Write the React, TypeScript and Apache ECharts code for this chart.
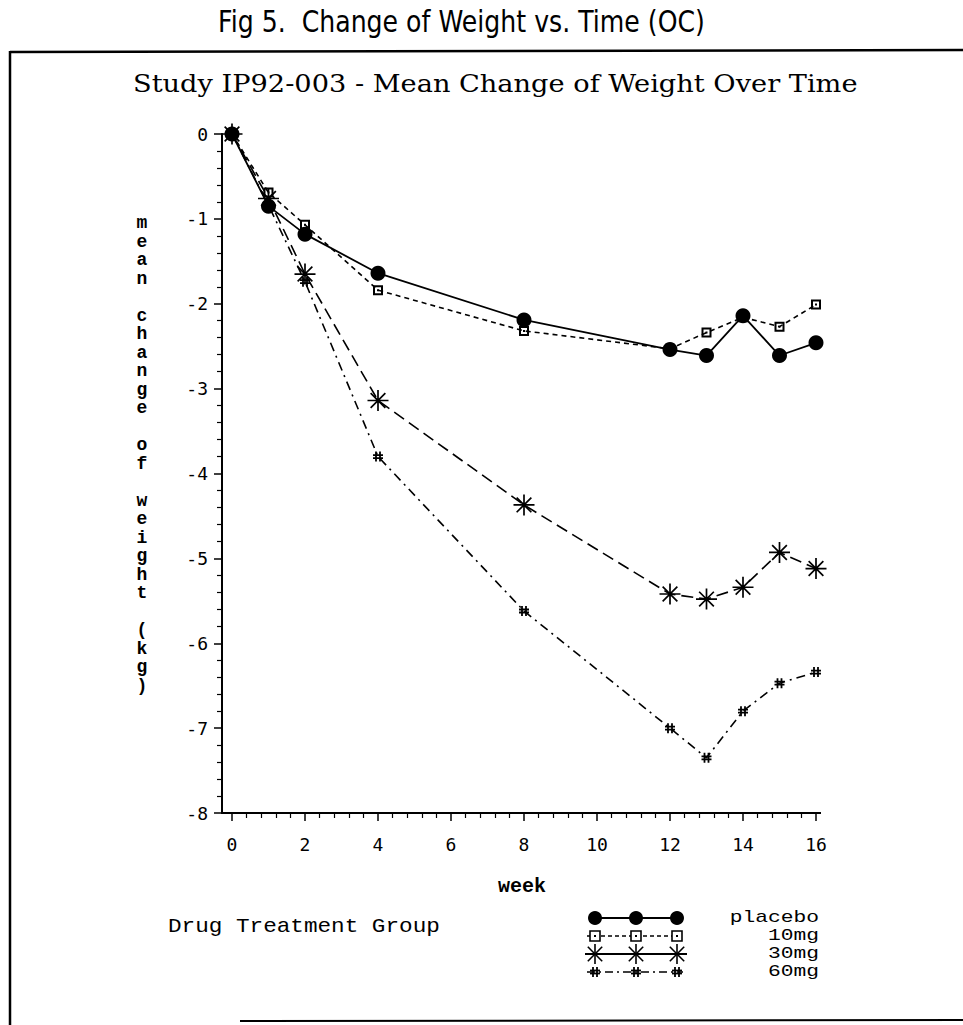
import React, { useEffect, useRef } from "react";
import * as echarts from "echarts";

// ---- data ----
const weeks = [0, 1, 2, 4, 8, 12, 13, 14, 15, 16];
const placebo = [0, -0.85, -1.18, -1.64, -2.19, -2.54, -2.61, -2.14, -2.61, -2.46];
const mg10 = [0, -0.69, -1.07, -1.84, -2.32, -2.53, -2.34, -2.16, -2.27, -2.01];
const mg30 = [0, -0.76, -1.65, -3.14, -4.37, -5.42, -5.48, -5.34, -4.93, -5.12];
const mg60 = [0, -0.84, -1.74, -3.8, -5.62, -7.0, -7.35, -6.8, -6.47, -6.34];
const groupNames = ["placebo", "10mg", "30mg", "60mg"];
const figTitle = "Fig 5.  Change of Weight vs. Time (OC)";
const plotTitle = "Study IP92-003 - Mean Change of Weight Over Time";
const yAxisName = "mean change of weight (kg)";
const xAxisName = "week";
const legendTitle = "Drug Treatment Group";

const SQUARE = "path://M0,0H10V10H0Z M2,2V8H8V2Z M4,4H6V6H4Z";
const STAR = "path://M10,0L10,20M0,10L20,10M3,3L17,17M17,3L3,17";
const HASH = "path://M3,0L3,10M7,0L7,10M0,3.5L10,3.5M0,6.5L10,6.5";

function measure(text: string, font: string): number {
  const c = document.createElement("canvas");
  const ctx = c.getContext("2d");
  if (!ctx) return text.length * 10;
  ctx.font = font;
  return ctx.measureText(text).width || text.length * 10;
}

function fitText(text: string, x: number, y: number, width: number, size: number, family: string, weight = "normal") {
  const w = measure(text, `${weight} ${size}px ${family}`);
  return {
    type: "text",
    x,
    y,
    scaleX: width / w,
    style: { text, fontSize: size, fontFamily: family, fontWeight: weight, fill: "#000", align: "left", verticalAlign: "middle" },
  };
}

function starShape(cx: number, cy: number, r: number) {
  const d = r * 0.72;
  const segs = [
    [cx - r, cy, cx + r, cy],
    [cx, cy - r, cx, cy + r],
    [cx - d, cy - d, cx + d, cy + d],
    [cx - d, cy + d, cx + d, cy - d],
  ];
  return segs.map((s) => ({
    type: "line",
    shape: { x1: s[0], y1: s[1], x2: s[2], y2: s[3] },
    style: { stroke: "#000", lineWidth: 1.6 },
  }));
}

function hashShape(cx: number, cy: number, r: number) {
  const segs = [
    [cx - r * 0.4, cy - r, cx - r * 0.4, cy + r],
    [cx + r * 0.4, cy - r, cx + r * 0.4, cy + r],
    [cx - r, cy - r * 0.3, cx + r, cy - r * 0.3],
    [cx - r, cy + r * 0.3, cx + r, cy + r * 0.3],
  ];
  return segs.map((s) => ({
    type: "line",
    shape: { x1: s[0], y1: s[1], x2: s[2], y2: s[3] },
    style: { stroke: "#000", lineWidth: 1.8 },
  }));
}

export default function App() {
  const ref = useRef<HTMLDivElement>(null);
  useEffect(() => {
    if (!ref.current) return;
    const chart = echarts.init(ref.current, null, { renderer: "svg" });

    const toPairs = (vals: number[]) => weeks.map((w, i) => [w, vals[i]]);

    const graphics: any[] = [];
    // outer box
    graphics.push({ type: "line", shape: { x1: 10, y1: 52, x2: 963, y2: 50 }, style: { stroke: "#000", lineWidth: 2.5 } });
    graphics.push({ type: "line", shape: { x1: 10, y1: 51, x2: 10, y2: 1025 }, style: { stroke: "#000", lineWidth: 2.5 } });
    graphics.push({ type: "line", shape: { x1: 240, y1: 1021, x2: 963, y2: 1020 }, style: { stroke: "#000", lineWidth: 2 } });
    // x axis line extension to the y axis and slightly past 16
    graphics.push({ type: "line", shape: { x1: 221, y1: 813, x2: 233, y2: 813 }, style: { stroke: "#000", lineWidth: 2 } });
    graphics.push({ type: "line", shape: { x1: 815, y1: 813, x2: 821, y2: 813 }, style: { stroke: "#000", lineWidth: 2 } });
    // titles
    graphics.push(fitText(figTitle, 218, 22, 487, 30, "DejaVu Sans"));
    graphics.push(fitText(plotTitle, 133, 84, 725, 24, "DejaVu Serif"));
    graphics.push(fitText(legendTitle, 168, 926, 272, 20, "Liberation Mono"));
    // vertical y-axis name, letter by letter
    let idx = 0;
    for (const ch of yAxisName) {
      if (ch !== " ") {
        graphics.push({
          type: "text",
          x: 142,
          y: 223 + idx * 18.5,
          style: { text: ch, fontSize: 18, fontFamily: "Liberation Mono", fontWeight: "bold", fill: "#000", align: "center", verticalAlign: "middle" },
        });
      }
      idx++;
    }
    // x-axis name
    graphics.push({
      type: "text",
      x: 522,
      y: 886,
      style: { text: xAxisName, fontSize: 20, fontFamily: "Liberation Mono", fontWeight: "bold", fill: "#000", align: "center", verticalAlign: "middle" },
    });
    // legend
    const rowY = [918, 936, 954, 972];
    const mx = [595, 636, 677];
    groupNames.forEach((name, i) => {
      graphics.push({
        type: "text",
        x: 819,
        y: rowY[i],
        scaleX: 1.25,
        style: { text: name, fontSize: 17, fontFamily: "Liberation Mono", fill: "#000", align: "right", verticalAlign: "middle" },
      });
    });
    // placebo row
    graphics.push({ type: "line", shape: { x1: mx[0], y1: rowY[0], x2: mx[2], y2: rowY[0] }, style: { stroke: "#000", lineWidth: 2 } });
    mx.forEach((x) => graphics.push({ type: "circle", shape: { cx: x, cy: rowY[0], r: 7 }, style: { fill: "#000" } }));
    // 10mg row
    graphics.push({ type: "line", shape: { x1: mx[0] - 8, y1: rowY[1], x2: mx[2] + 6, y2: rowY[1] }, style: { stroke: "#000", lineWidth: 1.5, lineDash: [4, 3] } });
    mx.forEach((x) => {
      graphics.push({ type: "rect", shape: { x: x - 5, y: rowY[1] - 5, width: 10, height: 10 }, style: { fill: "#fff", stroke: "#000", lineWidth: 1.6 } });
      graphics.push({ type: "rect", shape: { x: x - 1, y: rowY[1] - 1, width: 2, height: 2 }, style: { fill: "#000" } });
    });
    // 30mg row
    graphics.push({ type: "line", shape: { x1: mx[0] - 10, y1: rowY[2], x2: mx[2] + 10, y2: rowY[2] }, style: { stroke: "#000", lineWidth: 2 } });
    mx.forEach((x) => graphics.push(...starShape(x, rowY[2], 10)));
    // 60mg row
    graphics.push({ type: "line", shape: { x1: mx[0] - 8, y1: rowY[3], x2: mx[2] + 6, y2: rowY[3] }, style: { stroke: "#000", lineWidth: 1.6, lineDash: [8, 4, 2, 4] } });
    mx.forEach((x) => graphics.push(...hashShape(x, rowY[3], 5)));

    const axisCommon = {
      axisLine: { show: true, onZero: false, lineStyle: { color: "#000", width: 2 } },
      axisTick: { show: true, inside: false, length: 8, lineStyle: { color: "#000", width: 1.5 } },
      minorTick: { show: true, splitNumber: 5, length: 5, lineStyle: { color: "#000", width: 1.2 } },
      splitLine: { show: false },
      minorSplitLine: { show: false },
    };

    chart.setOption({
      animation: false,
      backgroundColor: "#fff",
      grid: { left: 232, top: 134, width: 584, height: 679, containLabel: false },
      xAxis: {
        type: "value",
        min: 0,
        max: 16,
        interval: 2,
        position: "bottom",
        ...axisCommon,
        axisLabel: { margin: 22, color: "#000", fontFamily: "DejaVu Sans Mono", fontSize: 18 },
      },
      yAxis: {
        type: "value",
        min: -8,
        max: 0,
        interval: 1,
        offset: 10,
        position: "left",
        ...axisCommon,
        axisLabel: { margin: 14, color: "#000", fontFamily: "DejaVu Sans Mono", fontSize: 18 },
      },
      series: [
        {
          name: groupNames[3],
          type: "line",
          data: toPairs(mg60),
          symbol: HASH,
          symbolSize: 10,
          lineStyle: { color: "#000", width: 1.6, type: [9, 5, 2, 5] },
          itemStyle: { color: "#000", borderColor: "#000", borderWidth: 1.8 },
          z: 2,
        },
        {
          name: groupNames[2],
          type: "line",
          data: toPairs(mg30),
          symbol: STAR,
          symbolSize: 21,
          lineStyle: { color: "#000", width: 1.6, type: [12, 6] },
          itemStyle: { color: "#000", borderColor: "#000", borderWidth: 1.7 },
          z: 3,
        },
        {
          name: groupNames[1],
          type: "line",
          data: toPairs(mg10),
          symbol: SQUARE,
          symbolSize: 10,
          lineStyle: { color: "#000", width: 1.6, type: [5, 4] },
          itemStyle: { color: "#000", borderWidth: 0 },
          z: 4,
        },
        {
          name: groupNames[0],
          type: "line",
          data: toPairs(placebo),
          symbol: "circle",
          symbolSize: 15,
          lineStyle: { color: "#000", width: 1.8, type: "solid" },
          itemStyle: { color: "#000", borderWidth: 0 },
          z: 5,
        },
      ],
      graphic: graphics,
    });
    return () => chart.dispose();
  }, []);
  return (
    <div
      ref={ref}
      style={{ position: "fixed", left: 0, top: 0, width: 963, height: 1025, background: "#fff" }}
    />
  );
}
